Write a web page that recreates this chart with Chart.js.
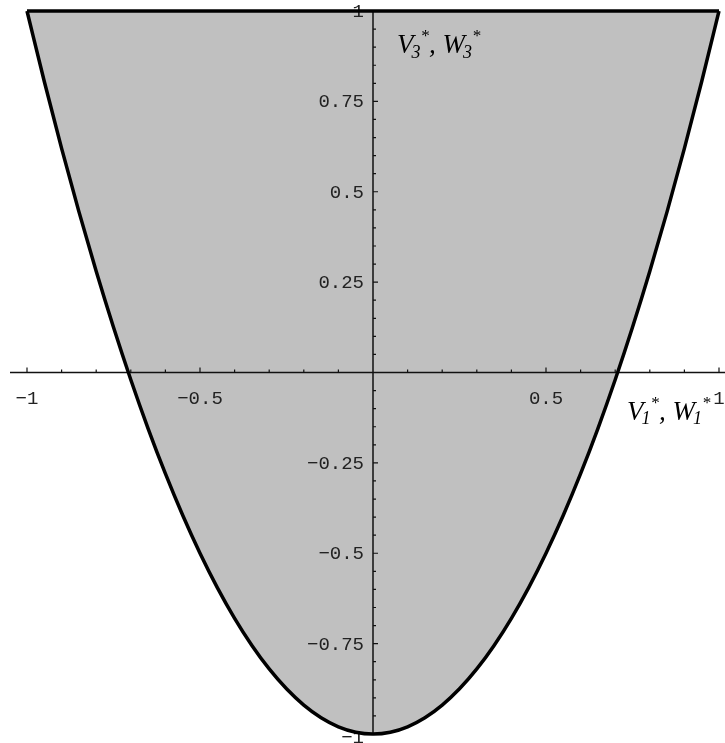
<!DOCTYPE html>
<html>
<head>
<meta charset="utf-8">
<title>V3*, W3* region</title>
<script src="https://cdn.jsdelivr.net/npm/chart.js@4/dist/chart.umd.min.js"></script>
<style>
    html, body { margin: 0; padding: 0; background: #fff; }
    canvas { display: block; }
</style>
</head>
<body>
<canvas id="regionChart" width="725" height="743"></canvas>
<script>
// Lower boundary of the shaded region (x = V1*, y = V3*)
const curveX = [-1, -0.95, -0.9, -0.85, -0.8, -0.75, -0.7, -0.65, -0.6, -0.55, -0.5,
    -0.45, -0.4, -0.35, -0.3, -0.25, -0.2, -0.15, -0.1, -0.05, 0,
    0.05, 0.1, 0.15, 0.2, 0.25, 0.3, 0.35, 0.4, 0.45, 0.5,
    0.55, 0.6, 0.65, 0.7, 0.75, 0.8, 0.85, 0.9, 0.95, 1];
const curveY = [1, 0.805, 0.62, 0.445, 0.28, 0.125, -0.02, -0.155, -0.28, -0.395, -0.5,
    -0.595, -0.68, -0.755, -0.82, -0.875, -0.92, -0.955, -0.98, -0.995, -1,
    -0.995, -0.98, -0.955, -0.92, -0.875, -0.82, -0.755, -0.68, -0.595, -0.5,
    -0.395, -0.28, -0.155, -0.02, 0.125, 0.28, 0.445, 0.62, 0.805, 1];

// Upper edge of the region
const topEdgeX = [-1, 1];
const topEdgeY = [1, 1];

// Axis ticks
const xMajorTicks = [-1, -0.5, 0.5, 1];
const xTickLabels = ['\u22121', '\u22120.5', '0.5', '1'];
const xMinorTicks = [-0.9, -0.8, -0.7, -0.6, -0.4, -0.3, -0.2, -0.1,
    0.1, 0.2, 0.3, 0.4, 0.6, 0.7, 0.8, 0.9];
const yMajorTicks = [-1, -0.75, -0.5, -0.25, 0.25, 0.5, 0.75, 1];
const yTickLabels = ['\u22121', '\u22120.75', '\u22120.5', '\u22120.25', '0.25', '0.5', '0.75', '1'];
const yMinorTicks = [-0.95, -0.9, -0.85, -0.8, -0.7, -0.65, -0.6, -0.55,
    -0.45, -0.4, -0.35, -0.3, -0.2, -0.15, -0.1, -0.05,
    0.05, 0.1, 0.15, 0.2, 0.3, 0.35, 0.4, 0.45,
    0.55, 0.6, 0.65, 0.7, 0.8, 0.85, 0.9, 0.95];

const toPoints = (xs, ys) => xs.map((x, i) => ({ x: x, y: ys[i] }));

// Draw italic text with subscripts / superscripts: [text, size, dy, dx]
function drawRichText(ctx, x, baseline, parts) {
    ctx.textAlign = 'left';
    ctx.textBaseline = 'alphabetic';
    parts.forEach(([text, size, dy, dx]) => {
        ctx.font = `italic ${size}px "Liberation Serif", "Times New Roman", serif`;
        x += dx || 0;
        ctx.fillText(text, x, baseline + dy);
        x += ctx.measureText(text).width;
    });
}

// Axes crossing at the origin, ticks drawn on the inner side
const crossedAxes = {
    id: 'crossedAxes',
    beforeDatasetsDraw(chart) {
        const { ctx, chartArea } = chart;
        const xs = chart.scales.x;
        const ys = chart.scales.y;
        const x0 = xs.getPixelForValue(0);
        const y0 = ys.getPixelForValue(0);

        ctx.save();
        ctx.strokeStyle = '#111';
        ctx.lineWidth = 1.5;
        ctx.beginPath();
        ctx.moveTo(chartArea.left - 17, y0);
        ctx.lineTo(chart.width, y0);
        ctx.moveTo(x0, chartArea.top);
        ctx.lineTo(x0, chartArea.bottom);
        ctx.stroke();

        ctx.lineWidth = 1.2;
        ctx.beginPath();
        xMajorTicks.forEach(v => {
            const px = xs.getPixelForValue(v);
            ctx.moveTo(px, y0);
            ctx.lineTo(px, y0 - 5);
        });
        xMinorTicks.forEach(v => {
            const px = xs.getPixelForValue(v);
            ctx.moveTo(px, y0);
            ctx.lineTo(px, y0 - 3);
        });
        yMajorTicks.forEach(v => {
            const py = ys.getPixelForValue(v);
            ctx.moveTo(x0, py);
            ctx.lineTo(x0 + 5, py);
        });
        yMinorTicks.forEach(v => {
            const py = ys.getPixelForValue(v);
            ctx.moveTo(x0, py);
            ctx.lineTo(x0 + 3, py);
        });
        ctx.stroke();

        // Tick labels
        ctx.fillStyle = '#222';
        ctx.font = '19px "Liberation Mono", "Courier New", monospace';
        ctx.textBaseline = 'middle';
        ctx.textAlign = 'center';
        xMajorTicks.forEach((v, i) => {
            ctx.fillText(xTickLabels[i], xs.getPixelForValue(v), y0 + 26);
        });
        ctx.textAlign = 'right';
        yMajorTicks.forEach((v, i) => {
            const dy = v === -1 ? 4 : 1;
            ctx.fillText(yTickLabels[i], x0 - 9, ys.getPixelForValue(v) + dy);
        });
        ctx.restore();
    },
    afterDraw(chart) {
        const ctx = chart.ctx;
        ctx.save();
        ctx.fillStyle = '#000';
        drawRichText(ctx, 397, 53, [
            ['V', 27, 0], ['3', 18, 5, -2], ['*', 17, -12], [', ', 27, 0],
            ['W', 27, 0], ['3', 18, 5, -2], ['*', 17, -12]
        ]);
        drawRichText(ctx, 627, 420, [
            ['V', 27, 0], ['1', 18, 4, -2], ['*', 17, -12], [', ', 27, 0],
            ['W', 27, 0], ['1', 18, 4, -2], ['*', 17, -12]
        ]);
        ctx.restore();
    }
};

const chartCtx = document.getElementById('regionChart').getContext('2d');

new Chart(chartCtx, {
    type: 'scatter',
    data: {
        datasets: [{
            data: toPoints(curveX, curveY),
            showLine: true,
            borderColor: '#000',
            borderWidth: 3.5,
            backgroundColor: '#c0c0c0',
            fill: 'end',
            pointRadius: 0,
            cubicInterpolationMode: 'monotone',
            clip: false
        }, {
            data: toPoints(topEdgeX, topEdgeY),
            showLine: true,
            borderColor: '#000',
            borderWidth: 3.5,
            fill: false,
            pointRadius: 0,
            clip: false
        }]
    },
    options: {
        responsive: false,
        animation: false,
        devicePixelRatio: 1,
        events: [],
        layout: {
            padding: { left: 27, right: 6, top: 11, bottom: 9 }
        },
        plugins: {
            legend: { display: false },
            tooltip: { enabled: false },
            filler: { drawTime: 'beforeDatasetsDraw' }
        },
        scales: {
            x: { type: 'linear', min: -1, max: 1, display: false },
            y: { type: 'linear', min: -1, max: 1, display: false }
        }
    },
    plugins: [crossedAxes]
});
</script>
</body>
</html>
